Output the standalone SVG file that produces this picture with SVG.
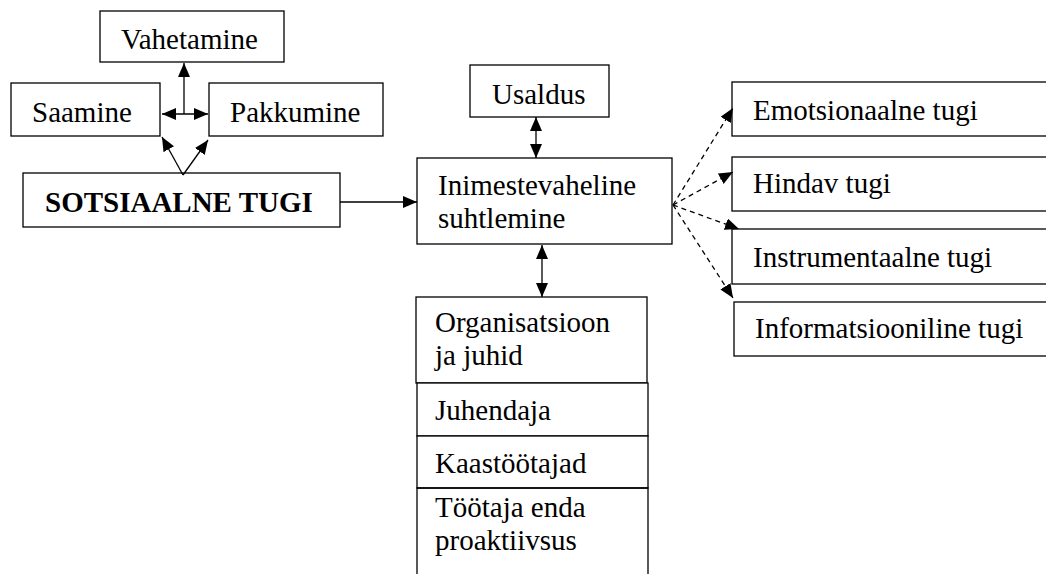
<svg xmlns="http://www.w3.org/2000/svg" width="1046" height="574" viewBox="0 0 1046 574">
<style>
.box{fill:#fff;stroke:#000;stroke-width:1.3}
.t{font-family:"Liberation Serif","Times New Roman",serif;font-size:29px;fill:#000}
.b{font-weight:bold}
.c{fill:none;stroke:#000;stroke-width:1.3}
.d{fill:none;stroke:#000;stroke-width:1.3;stroke-dasharray:5,4}
</style>
<defs>
<marker id="ah" markerUnits="userSpaceOnUse" markerWidth="15" markerHeight="13" refX="14" refY="6" orient="auto-start-reverse" viewBox="0 0 15 13">
<path d="M0,0 L14,6 L0,12 z" fill="#000"/>
</marker>
</defs>
<rect width="1046" height="574" fill="#fff"/>
<g id="vahetamine"><rect class="box" x="100" y="11" width="184" height="51"/><text class="t" x="121" y="49">Vahetamine</text></g>
<g id="saamine"><rect class="box" x="11" y="83" width="149" height="53"/><text class="t" x="32" y="122">Saamine</text></g>
<g id="pakkumine"><rect class="box" x="209" y="83" width="174" height="53"/><text class="t" x="230" y="122">Pakkumine</text></g>
<g id="sotsiaalne"><rect class="box" x="23" y="173" width="317" height="54"/><text class="t b" x="45" y="212">SOTSIAALNE TUGI</text></g>
<g id="usaldus"><rect class="box" x="470" y="65" width="139" height="52"/><text class="t" x="492" y="104">Usaldus</text></g>
<g id="inimeste"><rect class="box" x="417" y="158" width="255" height="86"/><text class="t" x="438" y="195">Inimestevaheline</text><text class="t" x="438" y="228">suhtlemine</text></g>
<g id="emotsionaalne"><rect class="box" x="732" y="82" width="320" height="54"/><text class="t" x="753" y="120">Emotsionaalne tugi</text></g>
<g id="hindav"><rect class="box" x="732" y="157" width="320" height="54"/><text class="t" x="753" y="193">Hindav tugi</text></g>
<g id="instrumentaalne"><rect class="box" x="732" y="229" width="320" height="55"/><text class="t" x="753" y="267">Instrumentaalne tugi</text></g>
<g id="informatsiooniline"><rect class="box" x="734" y="302" width="320" height="54"/><text class="t" x="755" y="338">Informatsiooniline tugi</text></g>
<g id="organisatsioon"><rect class="box" x="416" y="297" width="231" height="86"/><text class="t" x="435" y="332">Organisatsioon</text><text class="t" x="435" y="365">ja juhid</text></g>
<g id="juhendaja"><rect class="box" x="417" y="383" width="231" height="53"/><text class="t" x="435" y="420">Juhendaja</text></g>
<g id="kaastootajad"><rect class="box" x="417" y="436" width="231" height="52"/><text class="t" x="435" y="473">Kaastöötajad</text></g>
<g id="tootaja"><path class="c" d="M417,580 L417,488 L648,488 L648,580"/><text class="t" x="435" y="517">Töötaja enda</text><text class="t" x="435" y="550">proaktiivsus</text></g>
<g id="connectors">
<path class="c" d="M184,114 L184,63" marker-end="url(#ah)"/>
<path class="c" d="M162,114 L208,114" marker-start="url(#ah)" marker-end="url(#ah)"/>
<path class="c" d="M183,175 L162,137" marker-end="url(#ah)"/>
<path class="c" d="M183,175 L208,140" marker-end="url(#ah)"/>
<path class="c" d="M340,202 L417,202" marker-end="url(#ah)"/>
<path class="c" d="M536,117 L536,158" marker-start="url(#ah)" marker-end="url(#ah)"/>
<path class="c" d="M542,245 L542,297" marker-start="url(#ah)" marker-end="url(#ah)"/>
<path class="d" d="M673,205 L733,108" marker-end="url(#ah)"/>
<path class="d" d="M673,205 L733,172" marker-end="url(#ah)"/>
<path class="d" d="M673,205 L739,229" marker-end="url(#ah)"/>
<path class="d" d="M673,205 L733,298" marker-end="url(#ah)"/>
</g>
</svg>
